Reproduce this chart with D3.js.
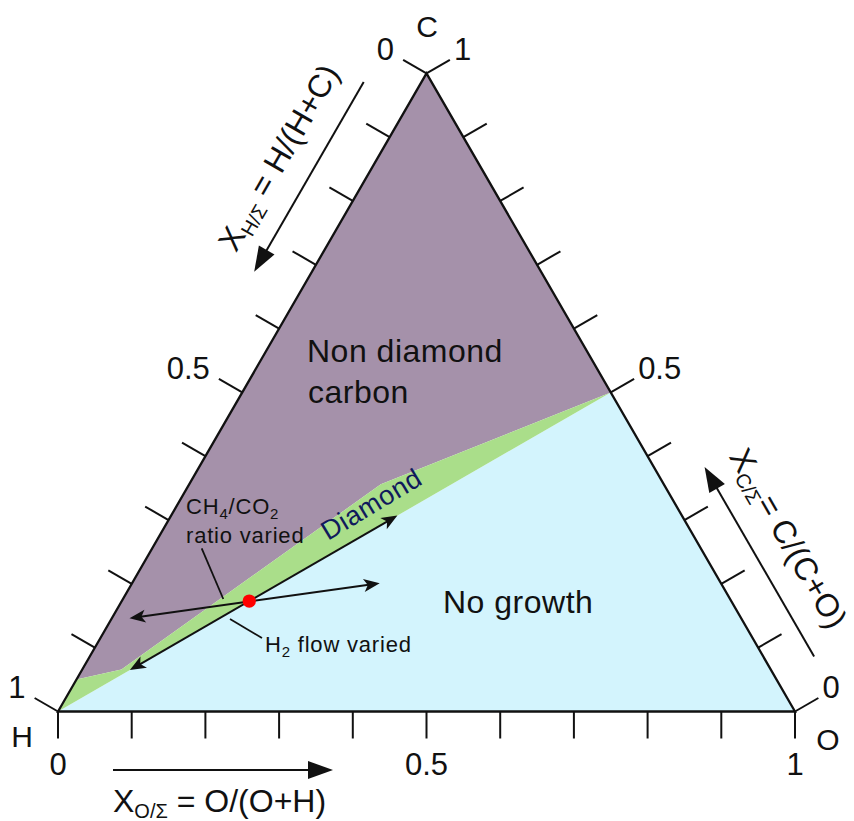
<!DOCTYPE html>
<html>
<head>
<meta charset="utf-8">
<script src="https://cdn.jsdelivr.net/npm/d3@7"></script>
<style>
  html, body { margin: 0; padding: 0; background: #fff; }
  svg { display: block; font-family: "Liberation Sans", Arial, Helvetica, sans-serif; }
</style>
</head>
<body>
<svg id="chart" width="854" height="821"></svg>
<script>
// Compositions are written as [O fraction, C fraction]; hydrogen is the remainder.
const nonDiamondRegion = [[0, 0.05], [0, 1], [0.5, 0.5], [0.26, 0.356], [0.053, 0.066]];
const diamondRegion    = [[0, 0], [0, 0.05], [0.053, 0.066], [0.26, 0.356], [0.5, 0.5]];
const noGrowthRegion   = [[0, 0], [1, 0], [0.5, 0.5]];

// Experimental paths through the growth point
const h2FlowPath  = [[0.065, 0.065], [0.307, 0.307]];
const ratioPath   = [[0.024, 0.146], [0.336, 0.201]];
const growthPoint = [0.173, 0.173];

// Axis ticks and their labels
const tickValues = [0, 0.1, 0.2, 0.3, 0.4, 0.5, 0.6, 0.7, 0.8, 0.9, 1];
const labelValues = [0, 0.5, 1];
const labelTexts  = ["0", "0.5", "1"];

const colors = {
  nonDiamond: "#a591aa",
  diamond: "#aade8a",
  noGrowth: "#d3f4fd",
  ink: "#111111",
  dot: "#ff0000",
  diamondText: "#101a5c"
};

const svg = d3.select("#chart");

// Triangle frame: x runs H -> O along the base, y is the carbon fraction
const x = d3.scaleLinear().domain([0, 1]).range([58, 795]);
const y = d3.scaleLinear().domain([0, 1]).range([711.5, 73.3]);
const pt = ([o, c]) => [x(o + c / 2), y(c)];

const Hp = pt([0, 0]), Op = pt([1, 0]), Cp = pt([0, 1]);
const s3 = Math.sqrt(3) / 2;
const nBottom = [0, 1], nLeft = [-s3, -0.5], nRight = [s3, -0.5];

function along(a, b, d, off, n) {
  const L = Math.hypot(b[0] - a[0], b[1] - a[1]);
  const ux = (b[0] - a[0]) / L, uy = (b[1] - a[1]) / L;
  return [a[0] + ux * d + n[0] * off, a[1] + uy * d + n[1] * off];
}

const line = d3.line();

// Phase regions
const regions = [
  { pts: noGrowthRegion, fill: colors.noGrowth },
  { pts: nonDiamondRegion, fill: colors.nonDiamond },
  { pts: diamondRegion, fill: colors.diamond }
];
svg.append("g").selectAll("path").data(regions).join("path")
  .attr("d", d => line(d.pts.map(pt)) + "Z")
  .attr("fill", d => d.fill)
  .attr("stroke", "none");

// Triangle outline
svg.append("path")
  .attr("d", line([Hp, Op, Cp]) + "Z")
  .attr("fill", "none")
  .attr("stroke", colors.ink)
  .attr("stroke-width", 2.3)
  .attr("stroke-linejoin", "miter");

// Edges: position of an axis value on each side
const edges = [
  { key: "bottom", at: t => [t, 0], n: nBottom },
  { key: "left",   at: t => [0, 1 - t], n: nLeft },
  { key: "right",  at: t => [1 - t, t], n: nRight }
];
const tickLen = 27;

const tickG = svg.append("g").attr("stroke", colors.ink).attr("stroke-width", 2);
edges.forEach(e => {
  tickG.selectAll(null).data(tickValues).join("line")
    .attr("x1", v => pt(e.at(v))[0])
    .attr("y1", v => pt(e.at(v))[1])
    .attr("x2", v => pt(e.at(v))[0] + e.n[0] * tickLen)
    .attr("y2", v => pt(e.at(v))[1] + e.n[1] * tickLen);
});

const labelG = svg.append("g").attr("font-size", 31).attr("fill", colors.ink);
edges.forEach(e => {
  labelG.selectAll(null).data(labelValues).join("text")
    .text((v, i) => labelTexts[i])
    .attr("x", v => {
      const p = pt(e.at(v)), ex = p[0] + e.n[0] * tickLen;
      return e.key === "bottom" ? ex : e.key === "left" ? ex - 9 : ex + 4;
    })
    .attr("y", v => {
      const p = pt(e.at(v)), ey = p[1] + e.n[1] * tickLen;
      return e.key === "bottom" ? ey + 36.5 : ey;
    })
    .attr("text-anchor", e.key === "bottom" ? "middle" : e.key === "left" ? "end" : "start");
});

// Corner element names
const cornerG = svg.append("g").attr("font-size", 30).attr("fill", colors.ink).attr("text-anchor", "middle");
cornerG.append("text").attr("x", 427).attr("y", 37).text("C");
cornerG.append("text").attr("x", 22).attr("y", 747).text("H");
cornerG.append("text").attr("x", 828).attr("y", 750).text("O");

// Arrow helper: line with a filled head (notch > 0 gives a swept-back head)
function head(g, from, tip, L, W, notch) {
  const dx = tip[0] - from[0], dy = tip[1] - from[1];
  const len = Math.hypot(dx, dy), ux = dx / len, uy = dy / len;
  const bx = tip[0] - ux * L, by = tip[1] - uy * L;
  const pts = [
    tip,
    [bx - uy * W, by + ux * W],
    [tip[0] - ux * (L - notch), tip[1] - uy * (L - notch)],
    [bx + uy * W, by - ux * W]
  ];
  g.append("path").attr("d", line(pts) + "Z").attr("fill", colors.ink).attr("stroke", "none");
  return [tip[0] - ux * (L - notch - 1), tip[1] - uy * (L - notch - 1)];
}
function arrow(g, a, b, opt) {
  const end = head(g, a, b, opt.L, opt.W, opt.notch);
  let start = a;
  if (opt.both) start = head(g, b, a, opt.L, opt.W, opt.notch);
  g.append("line")
    .attr("x1", start[0]).attr("y1", start[1])
    .attr("x2", end[0]).attr("y2", end[1])
    .attr("stroke", colors.ink).attr("stroke-width", opt.sw);
}

// Axis title arrows
const axisArrowG = svg.append("g");
const bigHead = { L: 25, W: 9, notch: 0, sw: 2 };
arrow(axisArrowG, along(Hp, Op, 55, 58.5, nBottom), along(Hp, Op, 275, 58.5, nBottom), bigHead);
arrow(axisArrowG, along(Cp, Hp, 39, 50, nLeft), along(Cp, Hp, 258, 50, nLeft), bigHead);
arrow(axisArrowG, along(Op, Cp, 38, 44, nRight), along(Op, Cp, 257, 44, nRight), bigHead);

// Axis titles with subscripts
function title(pos, angle, main, sub, rest) {
  const t = svg.append("text")
    .attr("transform", `translate(${pos[0]},${pos[1]}) rotate(${angle})`)
    .attr("font-size", 32).attr("fill", colors.ink);
  t.append("tspan").text(main);
  t.append("tspan").attr("font-size", 20).attr("dy", 6).text(sub);
  t.append("tspan").attr("dy", -6).text(rest);
}
title(along(Hp, Op, 55, 100, nBottom), 0, "X", "O/Σ", " = O/(O+H)");
title(along(Cp, Hp, 251, 75, nLeft), -60, "X", "H/Σ", " = H/(H+C)");
title(along(Op, Cp, 254, 70, nRight), 60, "X", "C/Σ", "= C/(C+O)");

// Region names
const regionText = svg.append("g").attr("font-size", 32).attr("fill", colors.ink).attr("letter-spacing", 0.5);
regionText.append("text").attr("x", 307).attr("y", 362).text("Non diamond");
regionText.append("text").attr("x", 308).attr("y", 403).text("carbon");
regionText.append("text").attr("x", 443).attr("y", 613).text("No growth");

svg.append("text")
  .attr("transform", "translate(328,541) rotate(-31)")
  .attr("font-size", 27).attr("letter-spacing", 0.6).attr("fill", colors.diamondText)
  .text("Diamond");

// Experiment paths
const pathG = svg.append("g");
const smallHead = { L: 16, W: 6.5, notch: 4, sw: 2, both: true };
arrow(pathG, pt(h2FlowPath[0]), pt(h2FlowPath[1]), smallHead);
arrow(pathG, pt(ratioPath[0]), pt(ratioPath[1]), smallHead);

// Leader lines to the annotations
const leaderG = svg.append("g").attr("stroke", colors.ink).attr("stroke-width", 1.8);
leaderG.append("line").attr("x1", 201.7).attr("y1", 548.3).attr("x2", 223.3).attr("y2", 599);
leaderG.append("line").attr("x1", 230).attr("y1", 619).attr("x2", 262).attr("y2", 638);

const noteG = svg.append("g").attr("font-size", 22).attr("fill", colors.ink).attr("letter-spacing", 0.8);
const n1 = noteG.append("text").attr("x", 186).attr("y", 514);
n1.append("tspan").text("CH");
n1.append("tspan").attr("font-size", 15).attr("dy", 5).text("4");
n1.append("tspan").attr("dy", -5).text("/CO");
n1.append("tspan").attr("font-size", 15).attr("dy", 5).text("2");
noteG.append("text").attr("x", 186).attr("y", 543).text("ratio varied");
const n2 = noteG.append("text").attr("x", 265).attr("y", 651.5);
n2.append("tspan").text("H");
n2.append("tspan").attr("font-size", 15).attr("dy", 5).text("2");
n2.append("tspan").attr("dy", -5).text(" flow varied");

// Growth point
svg.append("circle")
  .attr("cx", pt(growthPoint)[0]).attr("cy", pt(growthPoint)[1])
  .attr("r", 6.7).attr("fill", colors.dot);
</script>
</body>
</html>
